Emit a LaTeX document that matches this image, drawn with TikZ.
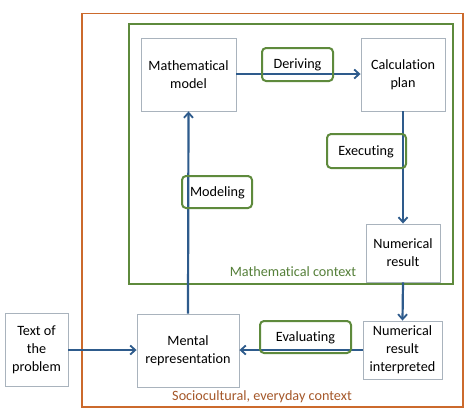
\documentclass[tikz,border=0pt]{standalone}
\usepackage{fontspec}
\setmainfont{Carlito}[RawFeature=-liga]
\usetikzlibrary{arrows.meta}
\definecolor{arrblue}{HTML}{2E5B8C}
\definecolor{grn}{HTML}{5E8A3C}
\definecolor{grntxt}{HTML}{56803A}
\definecolor{org}{HTML}{CC6A2C}
\definecolor{orgtxt}{HTML}{A5582A}
\definecolor{boxgray}{HTML}{A9B3BD}
\tikzset{
  x=1pt, y=-1pt,
  txt/.style={font=\fontsize{14.2}{18}\selectfont},
  box/.style={txt, draw=boxgray, line width=0.9pt, fill=white, align=center, inner sep=0pt},
  lab/.style={draw=grn, line width=2pt, rounded corners=4pt, inner sep=0pt},
  arr/.style={draw=arrblue, line width=2.2pt, -{Straight Barb[length=5pt,width=9pt,line width=1.8pt]}},
  frame/.style={line width=1.6pt},
}
\begin{document}
\begin{tikzpicture}
\useasboundingbox (0,0) rectangle (474,416);
\fill[white] (0,0) rectangle (474,416);
% frames
\draw[frame, draw=org] (82,13.5) rectangle (463,407);
\draw[frame, draw=grn] (129,24) rectangle (453,284);
% boxes
\node[box, minimum width=95pt, minimum height=73pt] (mm) at (188.5,74.5) {Mathematical\\model};
\node[box, minimum width=84pt, minimum height=73pt] (cp) at (403,74.5) {Calculation\\plan};
\node[box, minimum width=74pt, minimum height=58pt] (nr) at (403,253) {Numerical\\result};
\node[box, minimum width=79pt, minimum height=58pt] (nri) at (402.5,350) {Numerical\\result\\interpreted};
\node[box, minimum width=102pt, minimum height=73pt] (mr) at (188,350.5) {Mental\\representation};
\node[box, minimum width=63pt, minimum height=73pt] (tp) at (36.5,349.5) {Text of\\the\\problem};
% connectors
\draw[arr] (mm.east |- 0,74) -- (cp.west |- 0,74);
\draw[arr] (cp.south) -- (nr.north);
\draw[arr] (nr.south) -- (nri.north);
\draw[arr] (nri.west |- 0,350) -- (mr.east |- 0,350);
\draw[arr] (tp.east |- 0,350) -- (mr.west |- 0,350);
\draw[arr] (mr.north) -- (mm.south);
% labels
\node[lab, minimum width=71pt, minimum height=33pt] (der) at (297.5,64.5) {};
\node[txt] (dert) at (297.5,65) {Deriving};
\node[lab, minimum width=79pt, minimum height=34pt] (exe) at (366.5,151) {};
\node[txt] (exet) at (366,152) {Executing};
\node[lab, minimum width=70pt, minimum height=32pt] (mod) at (217,192) {};
\node[txt] (modt) at (217.5,193) {Modeling};
\node[lab, minimum width=91pt, minimum height=32pt] (eva) at (305.5,337) {};
\node[txt] (evat) at (305.5,337.5) {Evaluating};
% context texts
\node[txt, text=grntxt] (mc) at (293,272) {Mathematical context};
\node[txt, text=orgtxt] (sc) at (262,397) {Sociocultural, everyday context};
\end{tikzpicture}
\end{document}
